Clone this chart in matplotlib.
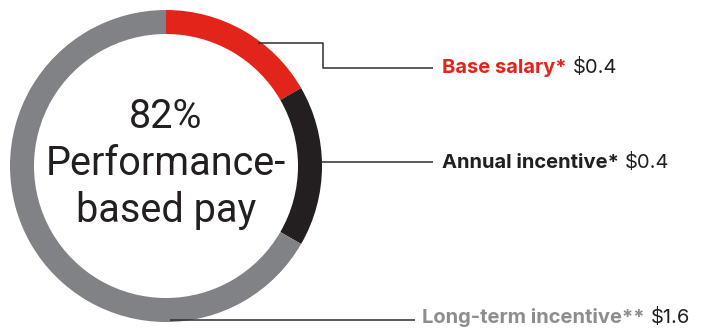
import matplotlib.pyplot as plt

# pay mix, $ millions
components = ["Base salary*", "Annual incentive*", "Long-term incentive**"]
amounts = [0.4, 0.4, 1.6]
amount_labels = ["$0.4", "$0.4", "$1.6"]
center_lines = ["82%", "Performance-", "based pay"]

colors = ["#E3241B", "#231F20", "#808285"]
label_colors = ["#E3241B", "#231F20", "#8C8D90"]
ink = "#231F20"

plt.rcParams["font.family"] = ["Roboto", "DejaVu Sans"]

W, H = 701, 331
fig = plt.figure(figsize=(W / 100, H / 100), dpi=100)
ax = fig.add_axes([0, 0, 1, 1])

cx, cy, r = 166, H - 166, 156
ax.pie(amounts, colors=colors, startangle=90, counterclock=False,
       radius=r, center=(cx, cy), frame=True,
       wedgeprops=dict(width=24, linewidth=0))

ax.set_xlim(0, W)
ax.set_ylim(0, H)
ax.set_aspect("equal")
ax.axis("off")

# big centre text
for txt, y in zip(center_lines, [128, 175, 222]):
    ax.text(cx, H - y, txt, ha="center", va="baseline", fontsize=28.5,
            color=ink)

# leader lines (pixel layout, y measured from top)
leaders = [
    [(258, 43), (323, 43), (323, 68), (433, 68)],
    [(322, 162), (433, 162)],
    [(170, 320), (415, 320)],
]
label_pos = [(442, 73), (442, 168), (422, 323)]

for pts, (lx, ly), name, val, c in zip(leaders, label_pos, components,
                                       amount_labels, label_colors):
    xs = [p[0] for p in pts]
    ys = [H - p[1] for p in pts]
    ax.plot(xs, ys, color="#2E2E2E", lw=1.1, solid_capstyle="butt")
    t = ax.text(lx, H - ly, name, ha="left", va="baseline", fontsize=14.5,
                fontweight="bold", color=c, family=["Inter", "DejaVu Sans"])
    ax.annotate(val, xy=(1, 0), xycoords=t, xytext=(4.5, 0),
                textcoords="offset points", ha="left", va="bottom",
                fontsize=14.5, color=ink, family=["Inter", "DejaVu Sans"])

fig.savefig("out.png", dpi=100)
